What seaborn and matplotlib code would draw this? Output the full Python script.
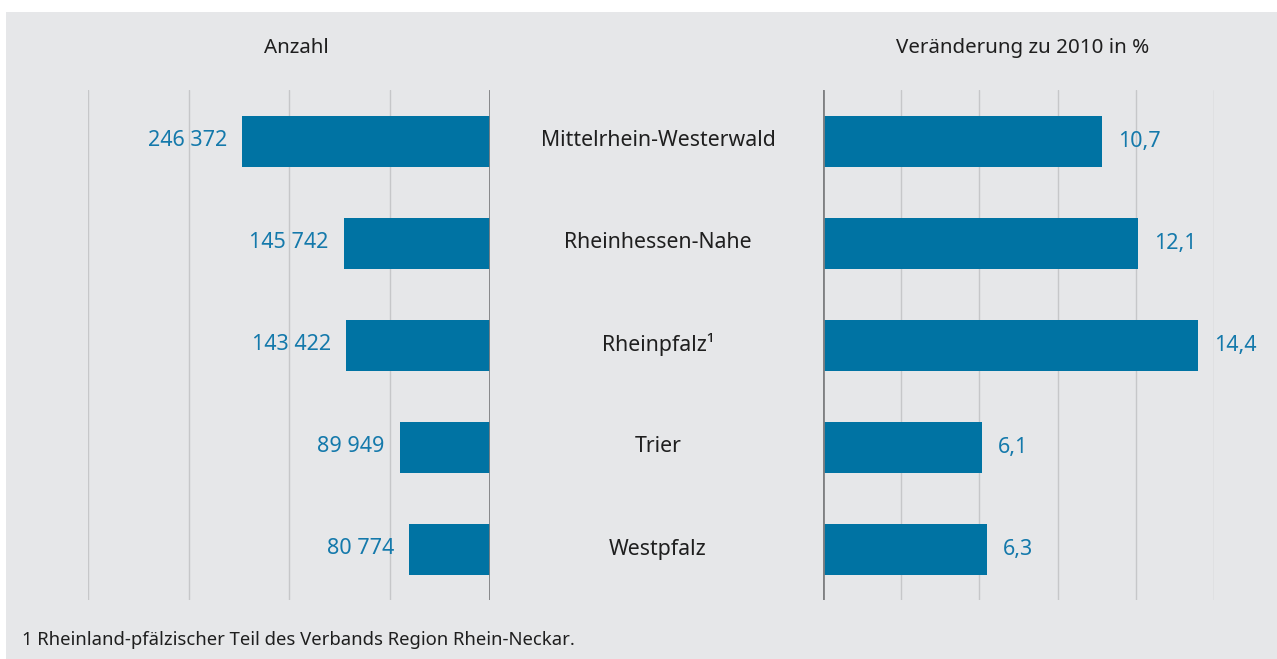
import matplotlib
matplotlib.use('Agg')
import matplotlib.pyplot as plt
import matplotlib.transforms as mtrans
import matplotlib.patches as mpatches
import pandas as pd
import seaborn as sns

# data
regionen = ['Mittelrhein-Westerwald', 'Rheinhessen-Nahe', 'Rheinpfalz\u00b9', 'Trier', 'Westpfalz']
anzahl = [246372, 145742, 143422, 89949, 80774]
veraenderung = [10.7, 12.1, 14.4, 6.1, 6.3]
anzahl_ticks = [0, 100000, 200000, 300000, 400000]
veraenderung_ticks = [0, 3, 6, 9, 12, 15]

df = pd.DataFrame({'region': regionen, 'anzahl': anzahl, 'veraenderung': veraenderung})

sns.set_style('white')
plt.rcParams['font.family'] = ['Noto Sans', 'DejaVu Sans']

bg = '#e6e7e9'
blue = '#0073a3'
label_blue = '#1479ab'
grid_col = '#c6c7c9'
zero_col = '#7f8082'
text_col = '#1f1f1f'
W, H = 1277, 659

fig = plt.figure(figsize=(W / 100, H / 100), dpi=100)
fig.patch.set_facecolor('white')
# gray panel
fig.add_artist(mpatches.Rectangle((6 / W, 0), 1 - 6 / W, 1 - 12 / H, transform=fig.transFigure,
                                  facecolor=bg, edgecolor='none', zorder=-10))

def fx(px):
    return px / W

bottom = 1 - 600 / H
height = (600 - 90) / H
ax1 = fig.add_axes([fx(88), bottom, fx(490 - 88), height])
ax2 = fig.add_axes([fx(823), bottom, fx(1214 - 823), height])

sns.barplot(data=df, x='anzahl', y='region', orient='h', color=blue, width=0.5,
            saturation=1, linewidth=0, ax=ax1, zorder=3)
sns.barplot(data=df, x='veraenderung', y='region', orient='h', color=blue, width=0.5,
            saturation=1, linewidth=0, ax=ax2, zorder=3)

for ax, ticks in [(ax1, anzahl_ticks), (ax2, veraenderung_ticks)]:
    ax.set_facecolor('none')
    ax.set_ylim(4.5, -0.5)
    ax.set_xticks(ticks)
    ax.set_xlim(ticks[0], ticks[-1])
    ax.grid(axis='x', color=grid_col, linewidth=1, zorder=0)
    ax.axvline(0, color=zero_col, linewidth=2, zorder=4)
    for s in ax.spines.values():
        s.set_visible(False)
    ax.tick_params(length=0, labelbottom=False, labelleft=False)
    ax.set_xlabel('')
    ax.set_ylabel('')

ax1.invert_xaxis()

# value labels
for i, v in enumerate(anzahl):
    lab = f'{v:,}'.replace(',', ' ')
    ax1.annotate(lab, (v, i), xytext=(-15, 0), textcoords='offset pixels',
                 ha='right', va='center', fontsize=15.5, color=label_blue)
for i, v in enumerate(veraenderung):
    lab = f'{v:.1f}'.replace('.', ',')
    ax2.annotate(lab, (v, i), xytext=(16, 0), textcoords='offset pixels',
                 ha='left', va='center', fontsize=15.5, color=label_blue)

# region names in the middle
trans = mtrans.blended_transform_factory(fig.transFigure, ax2.transData)
for i, r in enumerate(regionen):
    fig.text(fx(658), i, r, transform=trans, ha='center', va='center', fontsize=15.3, color=text_col)

# column titles
fig.text(fx(296), 1 - 48 / H, 'Anzahl', ha='center', va='center', fontsize=14.8, color=text_col)
fig.text(fx(1023), 1 - 48 / H, 'Veränderung zu 2010 in %', ha='center', va='center',
         fontsize=14.8, color=text_col)

fig.text(fx(22), 1 - 640 / H, '1 Rheinland-pfälzischer Teil des Verbands Region Rhein-Neckar.',
         ha='left', va='center', fontsize=13.3, color=text_col)

fig.savefig('out.png', dpi=100)
